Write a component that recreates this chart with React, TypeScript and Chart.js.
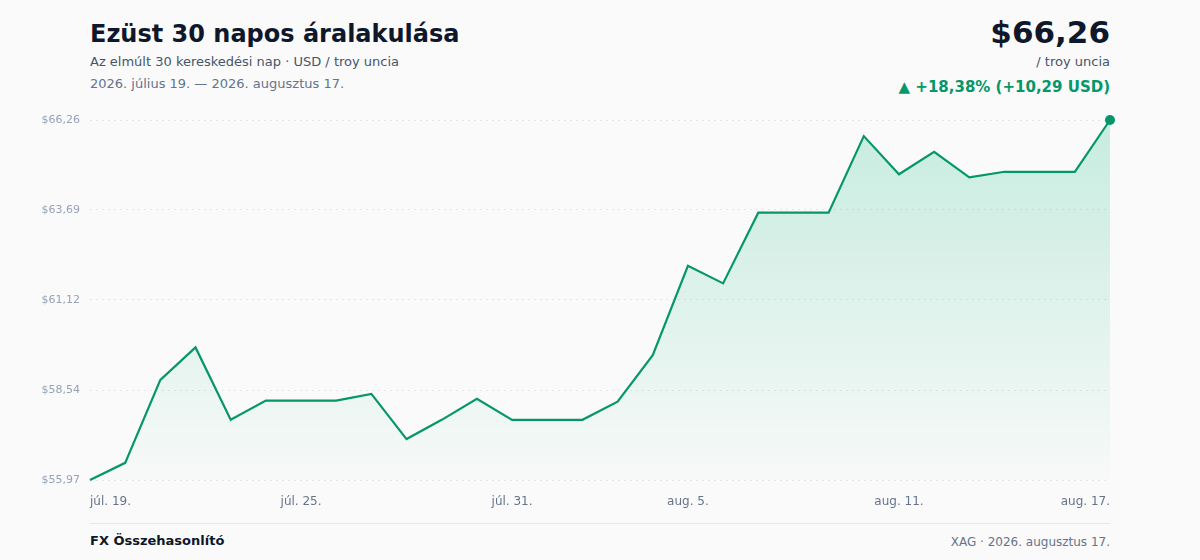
import React, { useEffect, useRef } from "react";
import { Chart, registerables } from "chart.js";

Chart.register(...registerables);

const dates: string[] = [
  "júl. 19.", "júl. 20.", "júl. 21.", "júl. 22.", "júl. 23.", "júl. 24.", "júl. 25.",
  "júl. 26.", "júl. 27.", "júl. 28.", "júl. 29.", "júl. 30.", "júl. 31.",
  "aug. 1.", "aug. 2.", "aug. 3.", "aug. 4.", "aug. 5.", "aug. 6.", "aug. 7.",
  "aug. 8.", "aug. 9.", "aug. 10.", "aug. 11.", "aug. 12.", "aug. 13.", "aug. 14.",
  "aug. 15.", "aug. 16.", "aug. 17.",
];

const prices: number[] = [
  55.97, 56.46, 58.83, 59.76, 57.69, 58.24, 58.24, 58.24, 58.43, 57.14,
  57.69, 58.29, 57.69, 57.69, 57.69, 58.21, 59.54, 62.09, 61.59, 63.61,
  63.61, 63.61, 65.8, 64.71, 65.35, 64.62, 64.78, 64.78, 64.78, 66.26,
];

const shownTickIndices: number[] = [0, 6, 12, 17, 23, 29];
const yTicks: number[] = [55.97, 58.54, 61.12, 63.69, 66.26];

const FONT = "'DejaVu Sans', sans-serif";
const GREEN = "#059669";

const fmt = (v: number) => "$" + v.toFixed(2).replace(".", ",");

export default function App() {
  const ref = useRef<HTMLCanvasElement | null>(null);

  useEffect(() => {
    const canvas = ref.current;
    if (!canvas) return;
    const last = prices.length - 1;
    const chart = new Chart(canvas, {
      type: "line",
      data: {
        labels: dates,
        datasets: [
          {
            data: prices,
            borderColor: GREEN,
            borderWidth: 2.2,
            tension: 0,
            clip: false as any,
            fill: "start",
            backgroundColor: (ctx: any) => {
              const area = ctx.chart.chartArea;
              if (!area) return "rgba(16,185,129,0.15)";
              const g = ctx.chart.ctx.createLinearGradient(0, area.top, 0, area.bottom);
              g.addColorStop(0, "rgba(16,185,129,0.22)");
              g.addColorStop(1, "rgba(16,185,129,0.01)");
              return g;
            },
            pointRadius: (ctx: any) => (ctx.dataIndex === last ? 5 : 0),
            pointHoverRadius: 0,
            pointBackgroundColor: GREEN,
            pointBorderWidth: 0,
          },
        ],
      },
      options: {
        animation: false,
        responsive: false,
        maintainAspectRatio: false,
        layout: { padding: { left: 0, right: 90, top: 20, bottom: 0 } },
        plugins: { legend: { display: false }, tooltip: { enabled: false } },
        scales: {
          x: {
            type: "category",
            grid: { display: false, drawTicks: false },
            border: { display: false },
            afterFit: (s: any) => {
              s.height = 30;
            },
            ticks: {
              autoSkip: false,
              maxRotation: 0,
              minRotation: 0,
              align: "inner",
              padding: 15,
              color: "#64748b",
              font: { family: FONT, size: 12 },
              callback: (_v: any, i: number) => (shownTickIndices.includes(i) ? dates[i] : ""),
            },
          },
          y: {
            min: yTicks[0],
            max: yTicks[yTicks.length - 1],
            afterFit: (s: any) => {
              s.width = 90;
            },
            afterBuildTicks: (s: any) => {
              s.ticks = yTicks.map((v) => ({ value: v }));
            },
            grid: {
              color: "#e5e7eb",
              drawTicks: false,
              lineWidth: 1,
            },
            border: { display: false, dash: [2, 4] },
            ticks: {
              padding: 10,
              color: "#94a3b8",
              font: { family: FONT, size: 11 },
              callback: (v: any) => fmt(Number(v)),
            },
          },
        },
      },
    });
    return () => chart.destroy();
  }, []);

  return (
    <div
      style={{
        position: "fixed",
        left: 0,
        top: 0,
        width: 1200,
        height: 560,
        background: "#fafafa",
        fontFamily: FONT,
        overflow: "hidden",
      }}
    >
      <div style={{ position: "absolute", left: 90, top: 18, fontSize: 24, fontWeight: 700, color: "#0f172a", lineHeight: "32px" }}>
        Ezüst 30 napos áralakulása
      </div>
      <div style={{ position: "absolute", left: 90, top: 53, fontSize: 13, color: "#475569", lineHeight: "18px" }}>
        Az elmúlt 30 kereskedési nap · USD / troy uncia
      </div>
      <div style={{ position: "absolute", left: 90, top: 75, fontSize: 13, color: "#64748b", lineHeight: "18px" }}>
        2026. július 19. — 2026. augusztus 17.
      </div>

      <div style={{ position: "absolute", right: 90, top: 12, fontSize: 31, fontWeight: 700, color: "#0f172a", lineHeight: "40px", textAlign: "right" }}>
        $66,26
      </div>
      <div style={{ position: "absolute", right: 90, top: 53, fontSize: 13, color: "#475569", lineHeight: "18px", textAlign: "right" }}>
        / troy uncia
      </div>
      <div style={{ position: "absolute", right: 90, top: 77, fontSize: 15, fontWeight: 700, color: GREEN, lineHeight: "20px", textAlign: "right" }}>
        ▲ +18,38% (+10,29 USD)
      </div>

      <canvas
        ref={ref}
        width={1200}
        height={410}
        style={{ position: "absolute", left: 0, top: 100, width: 1200, height: 410 }}
      />

      <div style={{ position: "absolute", left: 90, top: 523, width: 1020, height: 1, background: "#e5e7eb" }} />
      <div style={{ position: "absolute", left: 90, top: 532, fontSize: 13, fontWeight: 700, color: "#0f172a", lineHeight: "18px" }}>
        FX Összehasonlító
      </div>
      <div style={{ position: "absolute", right: 90, top: 533, fontSize: 12, color: "#64748b", lineHeight: "18px", textAlign: "right" }}>
        XAG · 2026. augusztus 17.
      </div>
    </div>
  );
}
